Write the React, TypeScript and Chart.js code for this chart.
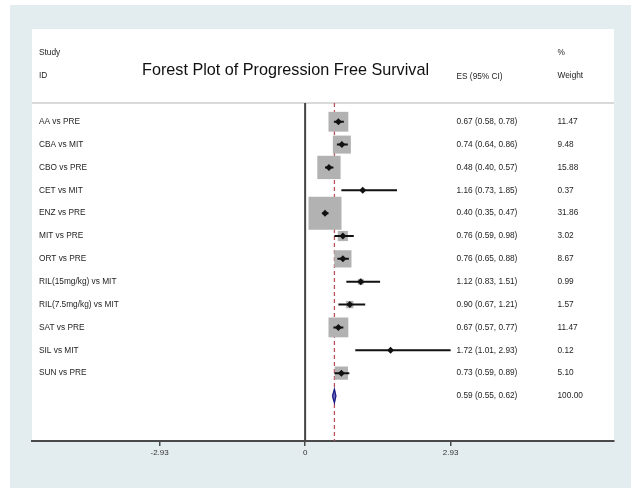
import { useEffect, useRef } from "react";
import { Chart, registerables } from "chart.js";

Chart.register(...registerables);

const studies = [
  "AA vs PRE",
  "CBA vs MIT",
  "CBO vs PRE",
  "CET vs MIT",
  "ENZ vs PRE",
  "MIT vs PRE",
  "ORT vs PRE",
  "RIL(15mg/kg) vs MIT",
  "RIL(7.5mg/kg) vs MIT",
  "SAT vs PRE",
  "SIL vs MIT",
  "SUN vs PRE",
];
const es = [0.67, 0.74, 0.48, 1.16, 0.4, 0.76, 0.76, 1.12, 0.9, 0.67, 1.72, 0.73];
const lo = [0.58, 0.64, 0.4, 0.73, 0.35, 0.59, 0.65, 0.83, 0.67, 0.57, 1.01, 0.59];
const hi = [0.78, 0.86, 0.57, 1.85, 0.47, 0.98, 0.88, 1.51, 1.21, 0.77, 2.93, 0.89];
const weights = [11.47, 9.48, 15.88, 0.37, 31.86, 3.02, 8.67, 0.99, 1.57, 11.47, 0.12, 5.1];
const overallES = 0.59;
const overallLo = 0.55;
const overallHi = 0.62;
const overallWeight = 100.0;
const tickValues = [-2.93, 0, 2.93];
const tickLabels = ["-2.93", "0", "2.93"];

const X_MIN = -5.5;
const X_MAX = 6.22;
const Y_MIN = -0.82;
const Y_MAX = 13.97;
const FONT = '"Liberation Sans", Arial, Helvetica, sans-serif';

const fmt = (v: number) => v.toFixed(2);

const decor = {
  id: "decor",
  beforeDraw(chart: any) {
    const { ctx, width, height, chartArea } = chart;
    ctx.save();
    ctx.fillStyle = "#ffffff";
    ctx.fillRect(0, 0, width, height);
    ctx.fillStyle = "#e3ecee";
    ctx.fillRect(10, 5, width - 10, height - 5);
    ctx.fillStyle = "#ffffff";
    ctx.fillRect(chartArea.left, 29, chartArea.right - chartArea.left, chartArea.bottom - 29);
    ctx.strokeStyle = "#cccccc";
    ctx.lineWidth = 1.5;
    ctx.beginPath();
    ctx.moveTo(chartArea.left, chartArea.top);
    ctx.lineTo(chartArea.right, chartArea.top);
    ctx.stroke();
    ctx.restore();
  },
  afterDraw(chart: any) {
    const { ctx } = chart;
    const yS = chart.scales.y;
    const esX = 456.5;
    const wX = 557.5;
    ctx.save();
    ctx.fillStyle = "#1e1e1e";
    ctx.textBaseline = "middle";
    ctx.textAlign = "left";
    ctx.font = `8.3px ${FONT}`;
    ctx.fillText("Study", 39, 53);
    ctx.fillText("ID", 39, 76);
    ctx.fillText("%", wX, 53);
    ctx.fillText("Weight", wX, 76);
    ctx.fillText("ES (95% CI)", esX, 77);
    studies.forEach((s, i) => {
      const y = yS.getPixelForValue(i);
      ctx.fillText(s, 39, y);
      ctx.fillText(`${fmt(es[i])} (${fmt(lo[i])}, ${fmt(hi[i])})`, esX, y);
      ctx.fillText(fmt(weights[i]), wX, y);
    });
    const yo = yS.getPixelForValue(studies.length);
    ctx.fillText(`${fmt(overallES)} (${fmt(overallLo)}, ${fmt(overallHi)})`, esX, yo);
    ctx.fillText(fmt(overallWeight), wX, yo);
    ctx.font = `16.2px ${FONT}`;
    ctx.textAlign = "center";
    ctx.fillStyle = "#111111";
    ctx.fillText("Forest Plot of Progression Free Survival", 285.5, 71);
    ctx.restore();
  },
};

export default function App() {
  const ref = useRef<HTMLCanvasElement | null>(null);
  useEffect(() => {
    if (!ref.current) return;
    const ciData: any[] = [];
    es.forEach((_, i) => {
      ciData.push({ x: lo[i], y: i }, { x: hi[i], y: i }, { x: null, y: null });
    });
    const n = studies.length;
    const diamond = [
      { x: overallLo, y: n },
      { x: overallES, y: n - 0.3 },
      { x: overallHi, y: n },
      { x: overallES, y: n + 0.3 },
      { x: overallLo, y: n },
    ];
    const chart = new Chart(ref.current, {
      type: "scatter",
      data: {
        datasets: [
          {
            data: es.map((v, i) => ({ x: v, y: i })),
            pointStyle: "rectRot",
            pointRadius: 3.5,
            pointBackgroundColor: "#111111",
            pointBorderWidth: 0,
            order: 0,
          } as any,
          {
            data: ciData,
            showLine: true,
            spanGaps: false,
            borderColor: "#111111",
            borderWidth: 2,
            pointRadius: 0,
            order: 1,
          },
          {
            data: diamond,
            showLine: true,
            fill: "shape",
            borderColor: "#1d1d80",
            borderWidth: 1.3,
            backgroundColor: "#6a6ac4",
            pointRadius: 0,
            order: 1,
          },
          {
            data: es.map((v, i) => ({ x: v, y: i })),
            pointStyle: "rect",
            pointRadius: weights.map((w) => (5.85 * Math.sqrt(w)) / (2 * Math.SQRT1_2)),
            pointBackgroundColor: "#b2b2b2",
            pointBorderWidth: 0,
            order: 2,
          },
          {
            data: [
              { x: 0, y: Y_MIN },
              { x: 0, y: Y_MAX },
            ],
            showLine: true,
            borderColor: "#444444",
            borderWidth: 2,
            pointRadius: 0,
            order: 3,
          },
          {
            data: [
              { x: overallES, y: Y_MIN },
              { x: overallES, y: Y_MAX },
            ],
            showLine: true,
            borderColor: "#b9525a",
            borderWidth: 1.3,
            borderDash: [4, 3],
            pointRadius: 0,
            order: 4,
          },
        ],
      },
      options: {
        responsive: false,
        animation: false,
        devicePixelRatio: 1,
        events: [],
        layout: { autoPadding: false, padding: { left: 32, right: 17, top: 103, bottom: 0 } },
        plugins: { legend: { display: false }, tooltip: { enabled: false }, title: { display: false } },
        scales: {
          x: {
            type: "linear",
            min: X_MIN,
            max: X_MAX,
            afterBuildTicks: (axis: any) => {
              axis.ticks = tickValues.map((v) => ({ value: v }));
            },
            afterFit: (axis: any) => {
              axis.height = 47;
              axis.paddingLeft = 0;
              axis.paddingRight = 0;
              axis.paddingTop = 0;
              axis.paddingBottom = 0;
            },
            border: { display: true, color: "#4a4a4a", width: 2 },
            grid: { drawOnChartArea: false, drawTicks: true, tickLength: 5, color: "#4a4a4a", lineWidth: 1.5 },
            ticks: {
              autoSkip: false,
              maxRotation: 0,
              padding: 2,
              color: "#333333",
              font: { size: 8, family: FONT },
              callback: (_v: any, i: number) => tickLabels[i],
            },
          },
          y: {
            type: "linear",
            display: false,
            min: Y_MIN,
            max: Y_MAX,
            reverse: true,
          },
        },
      },
      plugins: [decor],
    } as any);
    return () => chart.destroy();
  }, []);
  return (
    <div style={{ position: "fixed", left: 0, top: 0, width: 631, height: 488 }}>
      <canvas ref={ref} width={631} height={488} style={{ display: "block" }} />
    </div>
  );
}
